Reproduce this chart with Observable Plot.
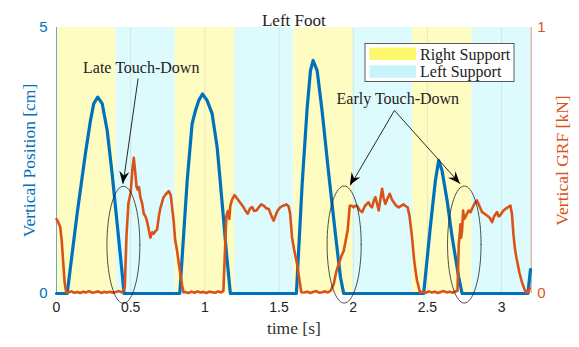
<!DOCTYPE html>
<html>
<head>
<meta charset="utf-8">
<script src="https://cdn.jsdelivr.net/npm/d3@7"></script>
<script src="https://cdn.jsdelivr.net/npm/@observablehq/plot@0.6"></script>
<style>
  html, body { margin: 0; padding: 0; background: #fff; }
  #chart svg { display: block; }
</style>
</head>
<body>
<div id="chart"></div>
<script>
// ---------- data ----------
const xTicks = [0, 0.5, 1, 1.5, 2, 2.5, 3];

// support phases
const bandStart = [0, 0.4, 0.8, 1.2, 1.6, 2.0, 2.4, 2.8];
const bandEnd   = [0.4, 0.8, 1.2, 1.6, 2.0, 2.4, 2.8, 3.2];
const bandPhase = ["Right Support", "Left Support", "Right Support", "Left Support",
                   "Right Support", "Left Support", "Right Support", "Left Support"];

// vertical position of left foot [cm]
const timePos = [0, 0.072, 0.139, 0.195, 0.229, 0.251, 0.278, 0.308, 0.342, 0.375, 0.409, 0.443, 0.455,
  0.831, 0.881, 0.914, 0.937, 0.959, 0.984, 1.015, 1.049, 1.083, 1.117, 1.146, 1.172,
  1.617, 1.656, 1.69, 1.712, 1.73, 1.757, 1.79, 1.835, 1.88, 1.914, 1.936,
  2.475, 2.52, 2.554, 2.576, 2.599, 2.633, 2.667, 2.711, 2.734, 3.178, 3.195];
const posCm = [0, 0, 1.5, 2.63, 3.25, 3.57, 3.69, 3.57, 3.06, 2.25, 1.31, 0.37, 0,
  0, 2.12, 3.19, 3.44, 3.63, 3.75, 3.63, 3.38, 2.75, 1.69, 0.75, 0,
  0, 2.06, 3.5, 4.19, 4.38, 4.19, 3.44, 2.25, 1.12, 0.31, 0,
  0, 1.25, 2.12, 2.5, 2.31, 1.75, 1.06, 0.31, 0, 0, 0.45];

// vertical ground reaction force [kN]
const timeGrf = [
  0, 0.01, 0.025, 0.035, 0.045, 0.055, 0.065,
  0.08, 0.1, 0.12, 0.14, 0.16, 0.18, 0.2, 0.22, 0.24, 0.26, 0.28, 0.3, 0.32, 0.34, 0.36, 0.38, 0.4, 0.42, 0.44,
  0.46, 0.472, 0.485, 0.5, 0.512, 0.521, 0.53, 0.54, 0.548, 0.556, 0.566, 0.577, 0.588, 0.6, 0.611, 0.622, 0.633,
  0.645, 0.656, 0.667, 0.678, 0.69, 0.7, 0.72, 0.74, 0.757, 0.77, 0.78, 0.79, 0.8, 0.813, 0.825, 0.836, 0.847, 0.856,
  0.87, 0.89, 0.91, 0.93, 0.95, 0.97, 0.99, 1.01, 1.03, 1.05, 1.07, 1.09, 1.11,
  1.125, 1.135, 1.145, 1.155, 1.165, 1.172, 1.185, 1.2, 1.22, 1.24, 1.26, 1.275, 1.289, 1.305, 1.319, 1.333, 1.348,
  1.365, 1.38, 1.397, 1.415, 1.431, 1.45, 1.464, 1.478, 1.491, 1.51, 1.532, 1.55, 1.565, 1.575, 1.588, 1.6, 1.622, 1.635, 1.65,
  1.67, 1.69, 1.71, 1.73, 1.75, 1.77, 1.79, 1.81, 1.83, 1.85,
  1.869, 1.885, 1.902, 1.92, 1.936, 1.95, 1.963, 1.977, 1.99, 2.003, 2.015, 2.026, 2.04, 2.06, 2.08, 2.104, 2.115, 2.127,
  2.14, 2.15, 2.16, 2.172, 2.185, 2.195, 2.205, 2.217, 2.23, 2.246, 2.26, 2.273, 2.29, 2.307, 2.325, 2.34, 2.355, 2.367,
  2.38, 2.397, 2.41, 2.42, 2.43, 2.45,
  2.47, 2.49, 2.51, 2.53, 2.55, 2.57, 2.59, 2.61, 2.63, 2.65, 2.67, 2.69,
  2.703, 2.712, 2.718, 2.723, 2.728, 2.734, 2.741, 2.748, 2.756, 2.767, 2.778, 2.79, 2.801, 2.82, 2.835, 2.85, 2.869,
  2.885, 2.902, 2.92, 2.936, 2.95, 2.97, 2.98, 2.99, 3.01, 3.026, 3.045, 3.06, 3.07, 3.08, 3.09, 3.1, 3.12, 3.138,
  3.155, 3.17, 3.18, 3.19];
const grfKn = [
  0.28, 0.27, 0.25, 0.2, 0.12, 0.04, 0.005,
  0.004, 0.008, 0.003, 0.006, 0.002, 0.007, 0.004, 0.009, 0.003, 0.005, 0.008, 0.002, 0.006, 0.004, 0.007, 0.003, 0.006, 0.009, 0.004,
  0.02, 0.22, 0.34, 0.38, 0.47, 0.51, 0.46, 0.4, 0.39, 0.4, 0.36, 0.34, 0.3, 0.29, 0.27, 0.24, 0.21,
  0.23, 0.225, 0.235, 0.24, 0.29, 0.32, 0.36, 0.375, 0.385, 0.37, 0.32, 0.27, 0.2, 0.16, 0.11, 0.07, 0.03, 0.005,
  0.005, 0.002, 0.007, 0.003, 0.008, 0.004, 0.006, 0.002, 0.007, 0.005, 0.003, 0.008, 0.004,
  0.01, 0.15, 0.29, 0.31, 0.28, 0.33, 0.355, 0.37, 0.355, 0.34, 0.325, 0.31, 0.3, 0.32, 0.325, 0.31, 0.312,
  0.325, 0.335, 0.33, 0.32, 0.318, 0.29, 0.274, 0.295, 0.312, 0.325, 0.331, 0.335, 0.327, 0.3, 0.21, 0.17, 0.11, 0.06, 0.005,
  0.004, 0.007, 0.002, 0.006, 0.009, 0.003, 0.005, 0.008, 0.004, 0.012,
  0.036, 0.08, 0.11, 0.14, 0.16, 0.2, 0.24, 0.33, 0.33, 0.324, 0.33, 0.33, 0.315, 0.306, 0.33, 0.343, 0.33, 0.324,
  0.35, 0.362, 0.34, 0.312, 0.36, 0.394, 0.36, 0.337, 0.355, 0.375, 0.355, 0.343, 0.33, 0.324, 0.33, 0.335, 0.328, 0.324,
  0.29, 0.21, 0.13, 0.086, 0.05, 0.005,
  0.006, 0.003, 0.008, 0.004, 0.007, 0.002, 0.006, 0.009, 0.004, 0.007, 0.003, 0.008,
  0.01, 0.187, 0.22, 0.26, 0.21, 0.237, 0.312, 0.28, 0.287, 0.3, 0.312, 0.305, 0.318, 0.34, 0.35, 0.33, 0.306,
  0.3, 0.293, 0.285, 0.268, 0.29, 0.306, 0.29, 0.293, 0.31, 0.318, 0.325, 0.33, 0.3, 0.224, 0.17, 0.136, 0.08, 0.042,
  0.015, 0.003, 0.005, 0.02];

// annotations (time [s], GRF [kN])
const noteText = ["Late Touch-Down", "Early Touch-Down"];
const noteT = [0.571, 2.301];
const noteK = [0.85, 0.732];
const arrowT1 = [0.55, 2.278, 2.278];
const arrowK1 = [0.808, 0.688, 0.688];
const arrowT2 = [0.449, 1.981, 2.722];
const arrowK2 = [0.412, 0.406, 0.412];
const ellipseT = [0.451, 1.939, 2.749];
const ellipseK = [0.183, 0.184, 0.184];
const ellipseRT = [0.111, 0.115, 0.113];
const ellipseRK = [0.22, 0.22, 0.22];

// ---------- styles ----------
const BLUE = "#0072BD", ORANGE = "#D95319";
const phaseColor = {"Right Support": "#fffcc2", "Left Support": "#ddfbfc"};
const SERIF = "Liberation Serif, Times New Roman, serif";
const SANS = "Liberation Sans, Arial, sans-serif";
const CM_PER_UNIT = 5; // left axis spans 0..5 cm on the 0..1 frame

// ---------- tables ----------
const bands = bandStart.map((s, i) => ({s, e: bandEnd[i], phase: bandPhase[i]}));
const pos = timePos.map((t, i) => ({t, v: posCm[i] / CM_PER_UNIT}));
const grf = timeGrf.map((t, i) => ({t, v: grfKn[i]}));
const notes = noteText.map((text, i) => ({text, t: noteT[i], k: noteK[i]}));
const arrows = arrowT1.map((t1, i) => ({t1, k1: arrowK1[i], t2: arrowT2[i], k2: arrowK2[i]}));
const ellipses = [];
ellipseT.forEach((cT, i) => {
  for (let j = 0; j <= 72; j++) {
    const a = (j / 72) * 2 * Math.PI;
    ellipses.push({id: i, t: cT + ellipseRT[i] * Math.cos(a), k: ellipseK[i] + ellipseRK[i] * Math.sin(a)});
  }
});

const chart = Plot.plot({
  width: 579,
  height: 347,
  marginLeft: 56,
  marginRight: 48.3,
  marginTop: 27,
  marginBottom: 54,
  style: {fontFamily: SANS, fontSize: "14px", background: "#fff", overflow: "visible"},
  x: {domain: [0, 3.2]},
  y: {domain: [0, 1]},
  marks: [
    Plot.rect(bands, {x1: "s", x2: "e", fill: d => phaseColor[d.phase]}),
    Plot.gridX(xTicks, {stroke: "#bbb", strokeOpacity: 0.4, strokeWidth: 0.8}),
    Plot.ruleX([0], {stroke: "#6fa6cf", strokeWidth: 1}),
    Plot.ruleX([3.2], {stroke: "#d9957a", strokeWidth: 1}),
    Plot.axisX({ticks: xTicks, tickSize: 0, tickPadding: 9, label: null, fontSize: 14, fill: "#222",
                tickFormat: d => String(d)}),
    Plot.axisY({anchor: "left", ticks: [0, 1], tickSize: 0, tickPadding: 9, label: null, fontSize: 15,
                fill: BLUE, tickFormat: d => String(d * CM_PER_UNIT)}),
    Plot.axisY({anchor: "right", ticks: [0, 1], tickSize: 0, tickPadding: 6, label: null, fontSize: 15,
                fill: ORANGE, tickFormat: d => String(d)}),
    Plot.line(pos, {x: "t", y: "v", stroke: BLUE, strokeWidth: 3.2, strokeLinejoin: "round"}),
    Plot.line(grf, {x: "t", y: "v", stroke: ORANGE, strokeWidth: 2.6, strokeLinejoin: "round"}),
    Plot.line(ellipses, {x: "t", y: "k", z: "id", stroke: "#222", strokeWidth: 0.8}),
    Plot.link(arrows, {x1: "t1", y1: "k1", x2: "t2", y2: "k2", stroke: "#111", strokeWidth: 0.9}),
    Plot.text(notes, {x: "t", y: "k", text: "text", fontFamily: SERIF, fontSize: 16, fill: "#222"}),
    Plot.text(["Left Foot"], {frameAnchor: "top", dy: -14, fontFamily: SERIF, fontSize: 17, fill: "#222"}),
    Plot.text(["time [s]"], {frameAnchor: "bottom", dy: 40, fontFamily: SERIF, fontSize: 17.5, fill: "#333"}),
    Plot.text(["Vertical Position [cm]"], {frameAnchor: "left", textAnchor: "middle", dx: -27, rotate: -90,
               fontFamily: SERIF, fontSize: 17.5, fill: BLUE}),
    Plot.text(["Vertical GRF [kN]"], {frameAnchor: "right", textAnchor: "middle", dx: 31, rotate: -90,
               fontFamily: SERIF, fontSize: 17.5, fill: ORANGE})
  ]
});

// filled arrowheads, placed with the chart's own scales
const sx = chart.scale("x"), sy = chart.scale("y");
const svg = d3.select(chart);
arrows.forEach(a => {
  const x1 = sx.apply(a.t1), y1 = sy.apply(a.k1), x2 = sx.apply(a.t2), y2 = sy.apply(a.k2);
  const ang = Math.atan2(y2 - y1, x2 - x1);
  const L = 12, W = 5, N = 8;
  const ux = Math.cos(ang), uy = Math.sin(ang), px = -uy, py = ux;
  const pts = [
    [x2, y2],
    [x2 - L * ux + W * px, y2 - L * uy + W * py],
    [x2 - N * ux, y2 - N * uy],
    [x2 - L * ux - W * px, y2 - L * uy - W * py]
  ];
  svg.append("polygon").attr("points", pts.map(p => p.join(",")).join(" ")).attr("fill", "#000");
});

// legend
const lg = svg.append("g").attr("text-anchor", "start");
lg.append("rect").attr("x", 365).attr("y", 43.5).attr("width", 149).attr("height", 38)
  .attr("fill", "#fff").attr("stroke", "#333").attr("stroke-width", 0.8);
const legendItems = ["Right Support", "Left Support"];
legendItems.forEach((name, i) => {
  const y = 47.5 + i * 17.8;
  lg.append("rect").attr("x", 369.5).attr("y", y).attr("width", 46.5).attr("height", 12.5)
    .attr("fill", name === "Right Support" ? "#fdf76a" : "#c6f6fb");
  lg.append("text").attr("x", 420).attr("y", y + 6.5).attr("dy", "0.35em").attr("text-anchor", "start")
    .attr("font-family", SERIF).attr("font-size", 16).attr("fill", "#222").text(name);
});

document.getElementById("chart").appendChild(chart);
</script>
</body>
</html>
